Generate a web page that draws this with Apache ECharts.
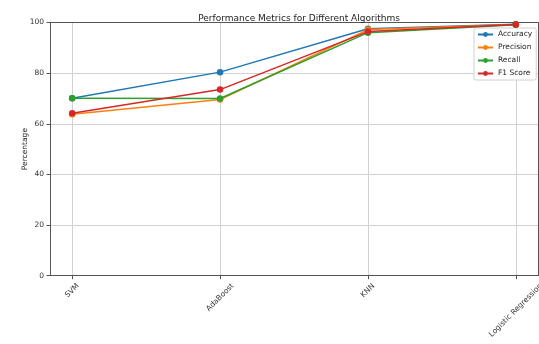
<!DOCTYPE html>
<html><head><meta charset="utf-8">
<script src="https://cdn.jsdelivr.net/npm/echarts@6/dist/echarts.min.js"></script>
<style>html,body{margin:0;padding:0;background:#fff}#c{width:539px;height:344px}</style>
</head><body><div id="c"></div>
<script>
const categories = ['SVM', 'AdaBoost', 'KNN', 'Logistic Regression'];
const accuracy = [70.1, 80.4, 97.5, 99.3];
const precision = [63.8, 69.6, 97.2, 99.2];
const recall = [70.1, 70.0, 96.0, 99.1];
const f1 = [64.2, 73.5, 96.4, 99.2];
const yTicks = [0, 20, 40, 60, 80, 100];
const seriesNames = ['Accuracy', 'Precision', 'Recall', 'F1 Score'];
const colors = ['#1f77b4', '#ff7f0e', '#2ca02c', '#d62728'];
const values = [accuracy, precision, recall, f1];

const font = 'DejaVu Sans';
const labelSize = 7.5;
const labelLH = 9;
// measure label widths so rotated labels can be centred under their ticks (matplotlib style)
const ctx = document.createElement('canvas').getContext('2d');
ctx.font = labelSize + 'px "' + font + '"';
const rich = {};
categories.forEach((c, i) => {
  const w = ctx.measureText(c).width;
  const p = (w + labelLH) / 2;
  rich['c' + i] = {fontSize: labelSize, fontFamily: font, color: '#333', lineHeight: labelLH, padding: [p, p, 0, 0]};
});

const chart = echarts.init(document.getElementById('c'));
const axisColor = '#555';
const gridColor = '#d2d2d2';
chart.setOption({
  animation: false,
  textStyle: {fontFamily: font},
  title: {text: 'Performance Metrics for Different Algorithms', left: 294, textAlign: 'center', top: 9,
    textStyle: {fontFamily: font, fontSize: 9, fontWeight: 'normal', color: '#222'}},
  grid: {left: 50, right: 1, top: 22.5, bottom: 68.3, containLabel: false, outerBoundsMode: 'none'},
  legend: {
    data: seriesNames, orient: 'vertical', left: 474, top: 28,
    itemWidth: 15, itemHeight: 6, itemGap: 4,
    backgroundColor: 'rgba(255,255,255,0.85)', borderColor: '#d0d0d0', borderWidth: 1, borderRadius: 2,
    padding: [2, 4, 2, 3],
    textStyle: {fontFamily: font, fontSize: labelSize, lineHeight: 9, color: '#222'}
  },
  xAxis: [{
    type: 'value', min: -0.15, max: 3.15,
    axisLine: {show: true, onZero: false, lineStyle: {color: axisColor, width: 1}},
    axisTick: {show: true, customValues: [0, 1, 2, 3], length: 3.5, lineStyle: {color: axisColor}},
    axisLabel: {customValues: [0, 1, 2, 3], rotate: 45, align: 'center', verticalAlign: 'middle', margin: 6,
      hideOverlap: false,
      formatter: v => { const i = Math.round(v); return '{c' + i + '|' + categories[i] + '}'; }, rich: rich},
    splitLine: {show: true, lineStyle: {color: gridColor, width: 1}}
  }, {
    type: 'value', position: 'top', min: -0.15, max: 3.15,
    axisLine: {show: true, onZero: false, lineStyle: {color: axisColor, width: 1}},
    axisTick: {show: false}, axisLabel: {show: false}, splitLine: {show: false}
  }],
  yAxis: [{
    type: 'value', min: 0, max: 100, interval: 20,
    name: 'Percentage', nameLocation: 'middle', nameGap: 21, nameMoveOverlap: false,
    nameTextStyle: {fontFamily: font, fontSize: labelSize, color: '#222'},
    axisLine: {show: true, onZero: false, lineStyle: {color: axisColor, width: 1}},
    axisTick: {show: true, length: 3.5, lineStyle: {color: axisColor}},
    axisLabel: {fontSize: labelSize, color: '#333', margin: 6, formatter: v => yTicks.includes(v) ? String(v) : ''},
    splitLine: {show: true, lineStyle: {color: gridColor, width: 1}}
  }, {
    type: 'value', position: 'right', min: 0, max: 100, interval: 20,
    axisLine: {show: true, onZero: false, lineStyle: {color: axisColor, width: 1}},
    axisTick: {show: false}, axisLabel: {show: false}, splitLine: {show: false}
  }],
  series: seriesNames.map((n, i) => ({
    name: n, type: 'line',
    data: values[i].map((v, j) => [j, v]),
    symbol: 'circle', symbolSize: 6.5,
    lineStyle: {width: 1.5, color: colors[i]},
    itemStyle: {color: colors[i]},
    z: 2 + i
  }))
});
</script></body></html>
